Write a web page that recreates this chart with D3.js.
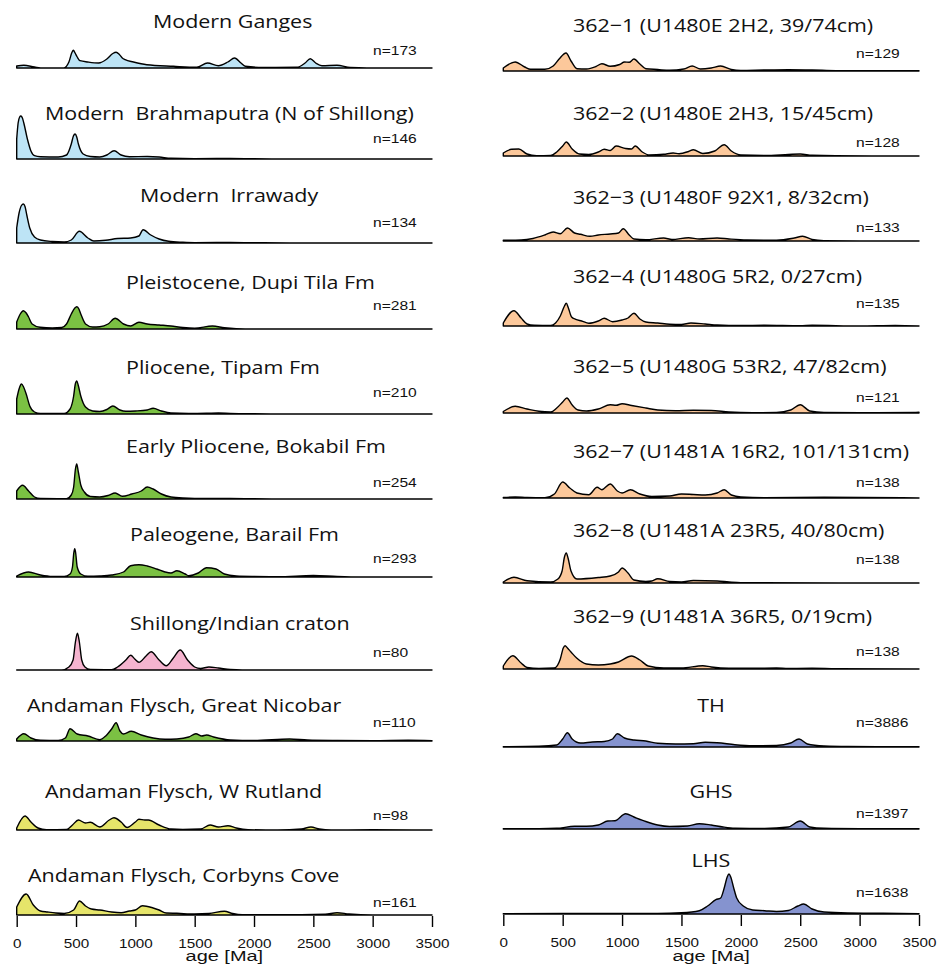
<!DOCTYPE html>
<html>
<head>
<meta charset="utf-8">
<script src="https://cdn.jsdelivr.net/npm/d3@7"></script>
<style>
  body { margin: 0; background: #fff; }
  .title { font-family: 'Open Sans', sans-serif; font-size: 18.5px; white-space: pre; fill: #111; }
  .count { font-family: 'Liberation Sans', Arial, sans-serif; font-size: 12px; fill: #111; }
  .axis text { font-family: 'Liberation Sans', Arial, sans-serif; font-size: 12.5px; fill: #111; }
  .axis-label { font-family: 'Liberation Sans', Arial, sans-serif; font-size: 15px; fill: #111; }
</style>
</head>
<body>
<svg id="chart" width="937" height="975"></svg>
<script>
// x axis
const ageTicks = [0, 500, 1000, 1500, 2000, 2500, 3000, 3500];

// left column: titles and sample counts
const leftTitles = [
  'Modern Ganges',
  'Modern  Brahmaputra (N of Shillong)',
  'Modern  Irrawady',
  'Pleistocene, Dupi Tila Fm',
  'Pliocene, Tipam Fm',
  'Early Pliocene, Bokabil Fm',
  'Paleogene, Barail Fm',
  'Shillong/Indian craton',
  'Andaman Flysch, Great Nicobar',
  'Andaman Flysch, W Rutland',
  'Andaman Flysch, Corbyns Cove'
];
const leftCounts = [173, 146, 134, 281, 210, 254, 293, 80, 110, 98, 161];

// right column: titles and sample counts
const rightTitles = [
  '362\u22121 (U1480E 2H2, 39/74cm)',
  '362\u22122 (U1480E 2H3, 15/45cm)',
  '362\u22123 (U1480F 92X1, 8/32cm)',
  '362\u22124 (U1480G 5R2, 0/27cm)',
  '362\u22125 (U1480G 53R2, 47/82cm)',
  '362\u22127 (U1481A 16R2, 101/131cm)',
  '362\u22128 (U1481A 23R5, 40/80cm)',
  '362\u22129 (U1481A 36R5, 0/19cm)',
  'TH',
  'GHS',
  'LHS'
];
const rightCounts = [129, 128, 133, 135, 121, 138, 138, 138, 3886, 1397, 1638];

// density curves, [age Ma, relative density]
const modernGanges = [[0, 2], [60, 2.7], [150, 1], [225, 0], [395, 0], [440, 6], [465, 15.5], [478, 17.7], [492, 15], [510, 11], [534, 7.3], [600, 6], [690, 5], [760, 9], [810, 14.5], [838, 15.7], [865, 13.5], [890, 10], [914, 8.3], [984, 6], [1096, 3.3], [1321, 1.7], [1518, 0.7], [1608, 5], [1700, 2.3], [1780, 6], [1836, 10], [1890, 5], [1926, 1.7], [2080, 0.5], [2362, 0.7], [2430, 5], [2474, 9.3], [2520, 5], [2572, 2.3], [2699, 2.7], [2811, 0.5], [2952, 0], [3500, 0]];
const modernBrahmaputra = [[0, 20], [12, 36], [25, 42], [35, 43], [48, 41], [60, 36], [90, 20], [120, 8], [150, 3.3], [200, 2.3], [350, 2], [420, 4], [460, 15], [478, 23], [492, 25], [506, 22], [520, 15], [560, 5], [620, 2.5], [700, 2], [760, 4], [821, 8.3], [880, 4], [950, 2.3], [1100, 2.5], [1200, 2], [1300, 0.7], [1500, 0.3], [1800, 0.5], [2000, 0.2], [2200, 0], [3500, 0]];
const modernIrrawady = [[0, 15], [20, 30], [40, 37.5], [56, 39], [70, 36.5], [85, 28], [110, 15], [150, 6], [200, 3], [300, 1.5], [400, 1], [460, 3], [528, 11.7], [600, 5], [650, 2], [750, 2.7], [850, 4.5], [960, 5], [1030, 7], [1065, 13.3], [1130, 8], [1200, 4], [1280, 1.7], [1400, 0.7], [1500, 0.3], [1800, 0.5], [2000, 0.3], [2300, 0], [3500, 0]];
const dupiTila = [[0, 7], [30, 15], [56, 18.3], [80, 16], [100, 12], [130, 5], [197, 1.7], [300, 1], [380, 1.5], [420, 5], [460, 15], [490, 21], [506, 22.3], [522, 20.5], [540, 15], [580, 5], [640, 2], [700, 2.3], [770, 5], [830, 10.7], [900, 5], [960, 3], [1030, 6.7], [1100, 5], [1200, 4], [1300, 3], [1400, 1.5], [1500, 0.8], [1650, 3], [1750, 1.2], [1850, 0.3], [2000, 0], [3500, 0]];
const tipam = [[0, 15], [20, 25], [40, 30], [58, 27], [80, 20], [110, 8], [150, 2], [200, 0.5], [400, 0.5], [450, 5], [480, 18], [494, 30], [506, 33], [518, 29], [540, 18], [580, 7], [640, 3], [700, 2.5], [760, 4.5], [810, 8], [870, 4], [920, 2.7], [1000, 3], [1100, 4], [1150, 5.7], [1220, 3], [1300, 1], [1450, 0.5], [1600, 0.7], [1700, 1], [1800, 0.6], [2000, 0.2], [2200, 0], [3500, 0]];
const bokabil = [[0, 8], [50, 13.7], [100, 8], [150, 2], [200, 0.5], [420, 0.3], [460, 4], [480, 12], [495, 30], [506, 35], [518, 28], [540, 14], [570, 7], [620, 2.5], [700, 2], [770, 3.5], [830, 6], [890, 2.7], [970, 5], [1050, 8], [1100, 12], [1150, 10], [1220, 5], [1300, 2], [1400, 1], [1600, 0.5], [1800, 0.5], [2000, 0.2], [2200, 0], [3500, 0]];
const barail = [[0, 1], [100, 5], [200, 2], [300, 0.5], [400, 0.5], [450, 3], [470, 10], [481, 24], [489, 28.3], [497, 24], [510, 10], [540, 3], [600, 0.7], [700, 1], [800, 2], [900, 5], [960, 11.3], [1030, 12.3], [1100, 11], [1180, 8], [1250, 5], [1300, 4], [1350, 6.3], [1420, 3], [1450, 1.3], [1530, 4], [1600, 9.3], [1680, 8], [1750, 3], [1850, 1], [2000, 0.5], [2200, 0.3], [2500, 1.5], [2700, 0.5], [2900, 0], [3500, 0]];
const shillongCraton = [[0, 0], [380, 0], [440, 3], [475, 10], [495, 28], [512, 36.7], [528, 28], [548, 10], [575, 3], [620, 0.5], [800, 0.3], [850, 3], [920, 10], [961, 14.7], [995, 11], [1030, 7.7], [1090, 14], [1133, 18.3], [1200, 10], [1260, 4.3], [1320, 12], [1378, 20], [1440, 10], [1500, 3], [1550, 1.5], [1620, 3], [1700, 2], [1800, 0.5], [1900, 0], [3500, 0]];
const greatNicobar = [[0, 2], [60, 7.3], [120, 3], [200, 0.7], [350, 0.5], [410, 3], [450, 12.3], [510, 7], [600, 5], [700, 1.3], [750, 5], [800, 12], [838, 18.3], [870, 10], [900, 7], [965, 9.7], [1050, 6], [1150, 3], [1250, 1.7], [1350, 2], [1450, 4], [1510, 7.3], [1560, 5], [1600, 6], [1660, 4], [1800, 1], [2000, 0.5], [2300, 2], [2450, 1], [2700, 0.5], [3000, 0.3], [3300, 0.7], [3500, 0.3]];
const wRutland = [[0, 2], [70, 14], [120, 8], [180, 2], [250, 0.3], [420, 0.5], [470, 5], [520, 10], [580, 7], [620, 7.7], [700, 3], [780, 10], [820, 12.3], [880, 8], [930, 2.5], [1000, 8], [1030, 10.7], [1080, 10], [1110, 10], [1200, 5], [1300, 1], [1400, 0.5], [1550, 1], [1630, 5], [1700, 3], [1780, 4.3], [1850, 2], [1950, 0.3], [2200, 0], [2400, 1], [2480, 3], [2550, 1], [2650, 0], [3000, 0.3], [3500, 0]];
const corbynsCove = [[0, 8], [80, 21], [140, 10], [200, 4], [260, 3], [330, 2], [400, 1.5], [480, 5], [530, 14], [580, 9], [630, 6], [700, 5], [800, 3], [880, 2.3], [950, 4], [1000, 5], [1060, 9.3], [1150, 7], [1200, 5], [1260, 2], [1350, 1.7], [1500, 1], [1620, 1.5], [1750, 3.7], [1820, 1.5], [1900, 0.3], [2200, 0.2], [2600, 0.8], [2700, 2.3], [2800, 1], [3000, 0], [3500, 0]];

const u1480E2H2 = [[0, 3], [100, 9], [180, 4], [230, 1.7], [350, 1.7], [420, 5], [470, 12], [528, 18], [570, 10], [620, 2.3], [700, 2], [780, 4.5], [830, 7.3], [900, 4.7], [980, 6.5], [1020, 9], [1060, 8.7], [1100, 12], [1150, 7], [1200, 2.3], [1300, 1.5], [1400, 0.7], [1520, 2], [1590, 5], [1660, 2], [1750, 3], [1830, 5], [1920, 1.5], [2000, 0.5], [2200, 1], [2400, 1.3], [2600, 1], [2800, 0.3], [3000, 0.2], [3300, 0.3], [3500, 0.2]];
const u1480E2H3 = [[0, 3], [70, 6.7], [130, 7], [200, 2], [280, 0.3], [400, 0.5], [450, 4], [500, 10], [530, 14], [580, 7], [640, 2], [720, 1.5], [800, 4], [850, 6.7], [900, 5.5], [950, 10], [1030, 7.5], [1080, 7], [1110, 10], [1170, 4], [1230, 1], [1350, 1.7], [1430, 3], [1480, 2.3], [1560, 4.5], [1600, 6.3], [1680, 2.5], [1780, 5], [1860, 11.3], [1920, 5], [2000, 1], [2200, 0.5], [2400, 1.5], [2500, 2], [2600, 0.7], [2800, 0.2], [3500, 0]];
const u1480F92X1 = [[0, 0.7], [150, 1], [250, 2.5], [350, 6], [420, 9], [480, 7.3], [540, 13], [600, 8], [650, 6.7], [730, 4.7], [800, 6], [900, 7], [970, 8], [1010, 12.3], [1060, 6], [1100, 2], [1200, 1.3], [1350, 3], [1420, 1.5], [1560, 3.3], [1650, 2], [1800, 3], [1900, 2], [2050, 1], [2300, 0.8], [2450, 3], [2520, 4.7], [2600, 1.5], [2700, 0.3], [3000, 0], [3500, 0]];
const u1480G5R2 = [[0, 3], [90, 15.3], [150, 8], [200, 2], [260, 0.7], [400, 0.5], [440, 3], [480, 10], [515, 20], [530, 22.7], [548, 18], [575, 9], [610, 6.7], [660, 5], [720, 2.7], [800, 5], [850, 7.7], [920, 4.3], [1000, 6], [1050, 8], [1100, 12.7], [1150, 7], [1200, 4], [1300, 3], [1400, 1.7], [1500, 1.5], [1580, 3], [1700, 2], [1800, 1], [2000, 0.5], [2200, 0.8], [2500, 0.3], [2600, 0.7], [3000, 0], [3300, 0.5], [3500, 0]];
const u1480G53R2 = [[0, 1.5], [100, 6.7], [200, 4], [300, 1.7], [400, 1], [450, 5], [500, 11], [535, 15], [580, 8], [630, 3], [700, 2], [800, 4], [900, 8.3], [950, 7.7], [1000, 9.3], [1080, 7.5], [1200, 5], [1300, 3], [1450, 2.3], [1600, 2.7], [1750, 2.5], [1900, 1], [2100, 0.3], [2300, 0.5], [2420, 3], [2500, 8.3], [2580, 2], [2700, 0.5], [3000, 0.3], [3500, 0.7]];
const u1481A16R2 = [[0, 0.5], [100, 1], [200, 0.5], [350, 0.3], [430, 4], [500, 16], [560, 10], [620, 5], [720, 3.3], [790, 10.7], [830, 8.3], [900, 14], [960, 7], [1000, 5], [1070, 8.3], [1150, 4], [1250, 1.5], [1400, 2], [1500, 4], [1600, 3.5], [1700, 3], [1800, 5], [1860, 8.3], [1920, 3], [2000, 1], [2200, 0.3], [2700, 0.7], [3500, 0]];
const u1481A23R5 = [[0, 1], [90, 5.7], [200, 2.3], [400, 1], [460, 4], [495, 12], [515, 26], [530, 30], [545, 25], [570, 12], [620, 4], [800, 5.5], [900, 7], [970, 11], [1000, 15], [1050, 10], [1100, 3], [1200, 1.5], [1250, 2], [1300, 4.3], [1400, 1.5], [1500, 1], [1600, 2.5], [1800, 2], [1900, 1], [2000, 0.3], [3500, 0]];
const u1481A36R5 = [[0, 3], [80, 13.3], [150, 6], [200, 1.5], [300, 0.5], [430, 1], [480, 10], [505, 21], [520, 23.3], [540, 21], [570, 17], [620, 10.7], [700, 5], [800, 4], [900, 5], [970, 7], [1080, 13], [1150, 9], [1220, 3], [1350, 1], [1500, 1], [1680, 3.3], [1750, 2], [1900, 0.7], [2100, 0.7], [2300, 1], [2400, 0.5], [2600, 0.7], [2800, 0.3], [3500, 0]];
const tethyanHimalaya = [[0, 0.3], [300, 0.7], [450, 2], [500, 8], [540, 14.3], [580, 8], [650, 4], [750, 5], [850, 5.5], [920, 8], [960, 13.3], [1020, 9], [1100, 7], [1200, 6], [1300, 3.7], [1450, 3], [1600, 3.3], [1700, 4.7], [1800, 4.3], [1950, 2.3], [2100, 1.3], [2300, 1.5], [2420, 4], [2490, 8], [2560, 3], [2700, 1], [2900, 0.5], [3500, 0.3]];
const greaterHimalaya = [[0, 0.2], [300, 0.3], [450, 0.7], [600, 2.7], [700, 2.7], [800, 4], [880, 8], [940, 8.3], [1030, 15.3], [1100, 12], [1200, 7.5], [1300, 4], [1400, 2.5], [1550, 3], [1650, 5.3], [1750, 4], [1850, 2], [1950, 0.8], [2200, 0.5], [2400, 2], [2500, 8], [2580, 2], [2700, 0.7], [3000, 0.3], [3500, 0.2]];
const lesserHimalaya = [[0, 0.3], [500, 0.5], [1000, 0.5], [1300, 0.5], [1500, 1.2], [1650, 3.3], [1720, 8], [1790, 14.3], [1830, 16], [1860, 26], [1885, 37], [1900, 40], [1915, 37], [1940, 26], [1965, 16], [2020, 8], [2100, 4], [2200, 3.3], [2300, 2.5], [2400, 3.5], [2480, 8], [2530, 10], [2600, 5], [2700, 2], [2900, 1], [3200, 0.7], [3500, 0.3]];

const leftSeries = [modernGanges, modernBrahmaputra, modernIrrawady, dupiTila, tipam, bokabil, barail, shillongCraton, greatNicobar, wRutland, corbynsCove];
const rightSeries = [u1480E2H2, u1480E2H3, u1480F92X1, u1480G5R2, u1480G53R2, u1481A16R2, u1481A23R5, u1481A36R5, tethyanHimalaya, greaterHimalaya, lesserHimalaya];

// colours
const blue = '#bde4f6', green = '#7bc143', pink = '#f5b4cf', yellow = '#e6e56a', orange = '#fcc89b', slate = '#8593cf';

// page layout
const leftColumn = {
  x0: 16.7, x1: 432,
  baselines: [68, 159, 243, 329, 414, 499, 577, 670, 741, 830, 915],
  titleX: [153, 45, 140, 126, 126, 126, 130, 130, 27, 45, 28],
  titleY: [28, 120, 202, 289, 374, 453, 541, 630, 712, 798, 882],
  titleAnchor: 'start',
  countX: 373,
  countY: [55, 143, 227, 310, 397, 487, 563, 657, 727, 820, 907],
  fills: [blue, blue, blue, green, green, green, green, pink, green, yellow, yellow]
};
const rightColumn = {
  x0: 503.3, x1: 919,
  baselines: [71, 156, 241, 326, 413, 498, 583, 669, 747, 829, 914],
  titleX: [573, 573, 573, 573, 573, 573, 573, 573, 711, 711, 711],
  titleY: [32, 120, 204, 283, 373, 458, 537, 623, 712, 798, 867],
  titleAnchor: ['start', 'start', 'start', 'start', 'start', 'start', 'start', 'start', 'middle', 'middle', 'middle'],
  countX: 856,
  countY: [58, 147, 232, 308, 402, 487, 564, 656, 727, 818, 897],
  fills: [orange, orange, orange, orange, orange, orange, orange, orange, slate, slate, slate]
};

const svg = d3.select('#chart');
const yScale = d3.scaleLinear().domain([0, 45]).range([0, 45]);

function drawColumn(col, series, titles, counts) {
  const xScale = d3.scaleLinear().domain([0, 3500]).range([col.x0, col.x1]);
  const g = svg.append('g');

  series.forEach((data, i) => {
    const base = col.baselines[i];
    const area = d3.area()
      .x(d => xScale(d[0]))
      .y0(base)
      .y1(d => base - yScale(d[1]))
      .curve(d3.curveMonotoneX);

    g.append('path')
      .attr('d', area(data))
      .attr('fill', col.fills[i])
      .attr('stroke', '#000')
      .attr('stroke-width', 1.4)
      .attr('stroke-linejoin', 'round');

    const anchor = Array.isArray(col.titleAnchor) ? col.titleAnchor[i] : col.titleAnchor;
    g.append('text')
      .attr('class', 'title')
      .attr('text-anchor', anchor)
      .attr('transform', `translate(${col.titleX[i]},${col.titleY[i]}) scale(1.16,1)`)
      .text(titles[i]);

    g.append('text')
      .attr('class', 'count')
      .attr('transform', `translate(${col.countX},${col.countY[i]}) scale(1.3,1)`)
      .text('n=' + counts[i]);
  });

  // age axis under the last panel
  const last = col.baselines[col.baselines.length - 1];
  const axis = g.append('g')
    .attr('class', 'axis')
    .attr('transform', `translate(0,${last + 1})`)
    .call(d3.axisBottom(xScale)
      .tickValues(ageTicks)
      .tickFormat(d3.format('d'))
      .tickSize(11)
      .tickSizeOuter(0)
      .tickPadding(12));
  axis.select('.domain').remove();
  axis.selectAll('.tick line').attr('stroke', '#000').attr('stroke-width', 1.4);
  axis.selectAll('.tick text').attr('transform', 'scale(1.22,1)');

  g.append('text')
    .attr('class', 'axis-label')
    .attr('text-anchor', 'middle')
    .attr('transform', `translate(${(col.x0 + col.x1) / 2},961) scale(1.33,1)`)
    .text('age [Ma]');
}

drawColumn(leftColumn, leftSeries, leftTitles, leftCounts);
drawColumn(rightColumn, rightSeries, rightTitles, rightCounts);
</script>
</body>
</html>
